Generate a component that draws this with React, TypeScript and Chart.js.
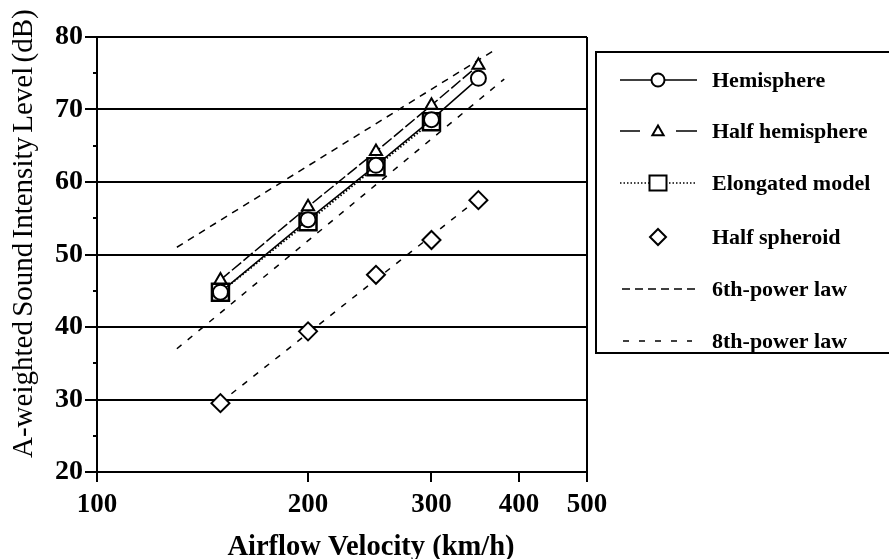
import React, { useEffect, useRef } from 'react';
import { Chart, registerables } from 'chart.js';

Chart.register(...registerables);

// ---- data ----
const velocities = [150, 200, 250, 300, 350];
const hemisphere = [44.8, 54.8, 62.3, 68.6, 74.3];
const halfHemisphere = [46.5, 56.6, 64.2, 70.6, 76.1];
const elongatedVelocities = [150, 200, 250, 300];
const elongated = [44.8, 54.5, 62.1, 68.3];
const halfSpheroid = [29.5, 39.4, 47.2, 52.0, 57.5];
const sixthPowerX = [130, 372];
const sixthPowerY = [51.0, 78.4];
const eighthPowerX = [130, 381];
const eighthPowerY = [37.0, 74.2];
const spheroidFitX = [150, 350];
const spheroidFitY = [29.6, 57.7];
const xTicks = [100, 200, 300, 400, 500];
const yMin = 20;
const yMax = 80;
const yStep = 10;
const yMinorTicks = [25, 35, 45, 55, 65, 75];
const legendLabels = ['Hemisphere', 'Half hemisphere', 'Elongated model', 'Half spheroid', '6th-power law', '8th-power law'];
const xTitle = 'Airflow Velocity (km/h)';
const yTitle = 'A-weighted Sound Intensity Level (dB)';

const FAMILY = "'Liberation Serif', 'Times New Roman', serif";

const pts = (xs: number[], ys: number[]) => xs.map((x, i) => ({ x, y: ys[i] }));

function drawCircle(ctx: CanvasRenderingContext2D, x: number, y: number, r: number) {
  ctx.beginPath();
  ctx.arc(x, y, r, 0, Math.PI * 2);
  ctx.fillStyle = '#fff';
  ctx.fill();
  ctx.stroke();
}
function drawTriangle(ctx: CanvasRenderingContext2D, x: number, y: number, r: number) {
  ctx.beginPath();
  for (let i = 0; i < 3; i++) {
    const a = (i * 2 * Math.PI) / 3;
    const px = x + Math.sin(a) * r;
    const py = y - Math.cos(a) * r;
    if (i === 0) ctx.moveTo(px, py);
    else ctx.lineTo(px, py);
  }
  ctx.closePath();
  ctx.fillStyle = '#fff';
  ctx.fill();
  ctx.stroke();
}
function drawSquare(ctx: CanvasRenderingContext2D, x: number, y: number, w: number, h: number) {
  ctx.beginPath();
  ctx.rect(x - w / 2, y - h / 2, w, h);
  ctx.fillStyle = '#fff';
  ctx.fill();
  ctx.stroke();
}
function drawDiamond(ctx: CanvasRenderingContext2D, x: number, y: number, r: number) {
  ctx.beginPath();
  ctx.moveTo(x, y - r);
  ctx.lineTo(x + r, y);
  ctx.lineTo(x, y + r);
  ctx.lineTo(x - r, y);
  ctx.closePath();
  ctx.fillStyle = '#fff';
  ctx.fill();
  ctx.stroke();
}

const decorPlugin = {
  id: 'decor',
  afterDraw(chart: any) {
    const ctx: CanvasRenderingContext2D = chart.ctx;
    const yScale = chart.scales.y;
    const area = chart.chartArea;
    ctx.save();
    ctx.strokeStyle = '#000';
    ctx.lineWidth = 2;
    // minor ticks
    yMinorTicks.forEach((v) => {
      const py = Math.round(yScale.getPixelForValue(v));
      ctx.beginPath();
      ctx.moveTo(area.left - 4, py);
      ctx.lineTo(area.left, py);
      ctx.stroke();
    });

    // legend box
    const bx = 596;
    const by = 52;
    const bh = 301;
    ctx.lineWidth = 2;
    ctx.strokeRect(bx, by, 400, bh);
    const rows = [80, 131, 183, 237, 289, 341];
    const lx0 = 620;
    const lx1 = 697;
    const mx = 658;
    ctx.font = `bold 22px ${FAMILY}`;
    ctx.fillStyle = '#000';
    ctx.textBaseline = 'middle';
    ctx.textAlign = 'left';
    rows.forEach((ry, i) => {
      ctx.fillStyle = '#000';
      ctx.fillText(legendLabels[i], 712, ry + 1);
    });
    ctx.lineWidth = 1.5;
    // row 1 hemisphere
    ctx.setLineDash([]);
    ctx.beginPath();
    ctx.moveTo(lx0, rows[0]);
    ctx.lineTo(lx1, rows[0]);
    ctx.stroke();
    ctx.lineWidth = 2;
    drawCircle(ctx, mx, rows[0], 6.5);
    // row 2 half hemisphere
    ctx.lineWidth = 1.5;
    ctx.beginPath();
    ctx.moveTo(lx0, rows[1]);
    ctx.lineTo(640, rows[1]);
    ctx.moveTo(676, rows[1]);
    ctx.lineTo(lx1, rows[1]);
    ctx.stroke();
    ctx.lineWidth = 2;
    drawTriangle(ctx, mx, rows[1] + 1, 6.5);
    // row 3 elongated
    ctx.lineWidth = 1.5;
    ctx.setLineDash([1.5, 2]);
    ctx.beginPath();
    ctx.moveTo(lx0, rows[2]);
    ctx.lineTo(lx1, rows[2]);
    ctx.stroke();
    ctx.setLineDash([]);
    ctx.lineWidth = 2;
    drawSquare(ctx, mx, rows[2], 17, 15);
    // row 4 half spheroid
    drawDiamond(ctx, mx, rows[3], 8);
    // row 5 6th-power
    ctx.lineWidth = 1.5;
    ctx.setLineDash([8, 5]);
    ctx.beginPath();
    ctx.moveTo(622, rows[4]);
    ctx.lineTo(697, rows[4]);
    ctx.stroke();
    // row 6 8th-power
    ctx.setLineDash([6, 10]);
    ctx.beginPath();
    ctx.moveTo(623, rows[5]);
    ctx.lineTo(692, rows[5]);
    ctx.stroke();
    ctx.setLineDash([]);

    // x title
    ctx.fillStyle = '#000';
    ctx.font = `bold 28.5px ${FAMILY}`;
    ctx.textAlign = 'center';
    ctx.textBaseline = 'alphabetic';
    ctx.fillText(xTitle, 371, 555);

    // y title
    ctx.save();
    ctx.translate(32, 458);
    ctx.rotate(-Math.PI / 2);
    ctx.font = `29px ${FAMILY}`;
    (ctx as any).wordSpacing = '-3px';
    ctx.textAlign = 'left';
    ctx.textBaseline = 'alphabetic';
    ctx.fillText(yTitle, 0, 0);
    ctx.restore();

    ctx.restore();
  },
};

export default function App() {
  const canvasRef = useRef<HTMLCanvasElement | null>(null);

  useEffect(() => {
    if (!canvasRef.current) return;
    const chart = new Chart(canvasRef.current, {
      type: 'scatter',
      data: {
        datasets: [
          {
            label: legendLabels[0],
            data: pts(velocities, hemisphere),
            showLine: true,
            borderColor: '#000',
            borderWidth: 1.5,
            pointStyle: 'circle',
            pointRadius: 7.5,
            pointBorderWidth: 2,
            pointBackgroundColor: '#fff',
            pointBorderColor: '#000',
          },
          {
            label: legendLabels[1],
            data: pts(velocities, halfHemisphere),
            showLine: true,
            borderColor: '#000',
            borderWidth: 1.5,
            borderDash: [12, 3],
            pointStyle: 'triangle',
            pointRadius: 7,
            pointBorderWidth: 2,
            pointBackgroundColor: '#fff',
            pointBorderColor: '#000',
          },
          {
            label: legendLabels[2],
            data: pts(elongatedVelocities, elongated),
            showLine: true,
            borderColor: '#000',
            borderWidth: 2,
            borderDash: [1.5, 2],
            pointStyle: 'rect',
            pointRadius: 12,
            pointBorderWidth: 2.5,
            pointBackgroundColor: '#fff',
            pointBorderColor: '#000',
          },
          {
            label: legendLabels[3],
            data: pts(velocities, halfSpheroid),
            showLine: false,
            borderColor: '#000',
            pointStyle: 'rectRot',
            pointRadius: 9,
            pointBorderWidth: 2,
            pointBackgroundColor: '#fff',
            pointBorderColor: '#000',
          },
          {
            label: legendLabels[4],
            data: pts(sixthPowerX, sixthPowerY),
            showLine: true,
            borderColor: '#000',
            borderWidth: 1.5,
            borderDash: [7, 6],
            pointRadius: 0,
          },
          {
            label: legendLabels[5],
            data: pts(eighthPowerX, eighthPowerY),
            showLine: true,
            borderColor: '#000',
            borderWidth: 1.5,
            borderDash: [6, 8],
            pointRadius: 0,
          },
          {
            label: legendLabels[5] + ' (half spheroid)',
            data: pts(spheroidFitX, spheroidFitY),
            showLine: true,
            borderColor: '#000',
            borderWidth: 1.5,
            borderDash: [6, 8],
            pointRadius: 0,
          },
        ],
      },
      options: {
        responsive: false,
        animation: false,
        devicePixelRatio: 1,
        layout: { padding: { left: 0, top: 37, right: 302, bottom: 0 } },
        plugins: {
          legend: { display: false },
          tooltip: { enabled: false },
        },
        scales: {
          x: {
            type: 'logarithmic',
            position: 'bottom',
            min: 100,
            max: 500,
            afterBuildTicks: (s: any) => {
              s.ticks = xTicks.map((v) => ({ value: v }));
            },
            afterFit: (s: any) => {
              s.height = 87;
            },
            ticks: {
              autoSkip: false,
              maxRotation: 0,
              color: '#000',
              padding: 7,
              font: { family: FAMILY, size: 27, weight: 'bold' },
              callback: (v: any) => String(v),
            },
            grid: {
              color: (c: any) => (c.tick && c.tick.value === 500 ? '#000' : 'rgba(0,0,0,0)'),
              tickColor: '#000',
              lineWidth: 2,
              tickLength: 10,
            },
            border: { display: true, color: '#000', width: 2 },
          },
          y: {
            type: 'linear',
            min: yMin,
            max: yMax,
            afterFit: (s: any) => {
              s.width = 97;
            },
            ticks: {
              stepSize: yStep,
              color: '#000',
              padding: 2,
              font: { family: FAMILY, size: 28, weight: 'bold' },
            },
            grid: {
              color: '#000',
              tickColor: '#000',
              lineWidth: 2,
              tickLength: 12,
            },
            border: { display: true, color: '#000', width: 2 },
          },
        },
      },
      plugins: [decorPlugin],
    } as any);
    return () => chart.destroy();
  }, []);

  return (
    <div style={{ position: 'absolute', left: 0, top: 0, width: 889, height: 559, background: '#fff' }}>
      <canvas ref={canvasRef} width={889} height={559} style={{ display: 'block' }} />
    </div>
  );
}
